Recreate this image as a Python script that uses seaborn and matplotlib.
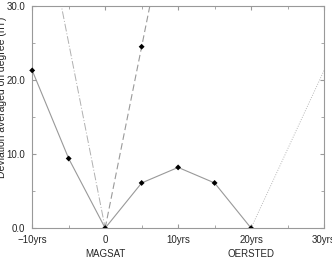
import pandas as pd
import matplotlib

matplotlib.use('Agg')
import matplotlib.pyplot as plt
import seaborn as sns

# deviation data
years_solid = [-10, -5, 0, 5, 10, 15, 20]
dev_solid = [21.3, 9.4, 0.0, 6.1, 8.2, 6.1, 0.0]

years_dashed = [0, 5, 10]
dev_dashed = [0.0, 24.5, 49.0]

years_dashdot = [-10, 0]
dev_dashdot = [50.0, 0.0]

years_dotted = [20, 30]
dev_dotted = [0.0, 21.3]

xticks = [-10, 0, 10, 20, 30]
xticklabels = ['\u221210yrs', '0', '10yrs', '20yrs', '30yrs']
yticks = [0, 10, 20, 30]
yticklabels = ['0.0', '10.0', '20.0', '30.0']

sns.set_style('ticks')
plt.rcParams['font.family'] = ['Liberation Sans', 'DejaVu Sans']

fig = plt.figure(figsize=(3.32, 2.61), dpi=100)
ax = fig.add_axes([0.097, 0.126, 0.879, 0.851])

solid = pd.DataFrame({'year': years_solid, 'dev': dev_solid})
sns.lineplot(x='year', y='dev', data=solid, ax=ax, color='#999999', lw=0.8)
sns.scatterplot(x='year', y='dev', data=solid[solid.year != -10], ax=ax,
                color='black', s=9, marker='D', edgecolor='none', zorder=5)
sns.scatterplot(x=[-10], y=[dev_solid[0]], ax=ax, color='black', s=9,
                marker='D', edgecolor='none', zorder=5, clip_on=False)

dashed = pd.DataFrame({'year': years_dashed, 'dev': dev_dashed})
sns.lineplot(x='year', y='dev', data=dashed, ax=ax, color='#999999', lw=0.8,
             linestyle=(0, (6, 3)))
sns.scatterplot(x=[5], y=[dev_dashed[1]], ax=ax, color='black', s=9,
                marker='D', edgecolor='none', zorder=5)

dashdot = pd.DataFrame({'year': years_dashdot, 'dev': dev_dashdot})
sns.lineplot(x='year', y='dev', data=dashdot, ax=ax, color='#b0b0b0', lw=0.7,
             linestyle=(0, (8, 2, 1, 2)))

dotted = pd.DataFrame({'year': years_dotted, 'dev': dev_dotted})
sns.lineplot(x='year', y='dev', data=dotted, ax=ax, color='#b8b8b8', lw=0.7,
             linestyle=(0, (1, 1.5)))

ax.set_xlim(-10, 30)
ax.set_ylim(0, 30)
ax.set_xticks(xticks)
ax.set_xticklabels(xticklabels)
ax.set_yticks(yticks)
ax.set_yticklabels(yticklabels)
ax.set_xticks([-5, 5, 15, 25], minor=True)
ax.set_yticks([5, 15, 25], minor=True)
ax.tick_params(which='both', direction='in', top=True, right=True,
               color='#999999', labelsize=7, pad=5)
ax.tick_params(which='major', length=3)
ax.tick_params(which='minor', length=2)
for sp in ax.spines.values():
    sp.set_color('#999999')
    sp.set_linewidth(0.8)

ax.set_xlabel('')
ax.set_ylabel('Deviation averaged on degree (nT)', fontsize=7.5)
ax.yaxis.set_label_coords(-0.088, 0.59)

ax.text(0, -0.095, 'MAGSAT', transform=ax.get_xaxis_transform(),
        ha='center', va='top', fontsize=7)
ax.text(20, -0.095, 'OERSTED', transform=ax.get_xaxis_transform(),
        ha='center', va='top', fontsize=7)

plt.savefig('out.png', dpi=100)
